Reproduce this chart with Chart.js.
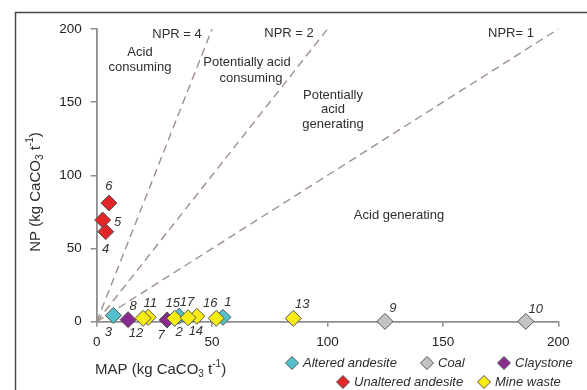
<!DOCTYPE html>
<html><head><meta charset="utf-8">
<script src="https://cdn.jsdelivr.net/npm/chart.js@4.4.1/dist/chart.umd.min.js"></script>
<style>html,body{margin:0;padding:0;background:#fff;overflow:hidden}#wrap{width:587px;height:390px;position:relative}canvas{display:block}</style>
</head><body><div id="wrap"><canvas id="c" width="587" height="390"></canvas></div>
<script>
// ---- data ----
const alteredIds = ['1', '2', '3'];
const alteredMAP = [54.7, 35.7, 7.2];
const alteredNP = [3.0, 3.7, 4.3];

const coalIds = ['9', '10'];
const coalMAP = [124.9, 185.9];
const coalNP = [0.2, 0.2];

const claystoneIds = ['7', '8'];
const claystoneMAP = [30.5, 13.6];
const claystoneNP = [1.2, 1.4];

const unalteredIds = ['4', '5', '6'];
const unalteredMAP = [3.9, 2.6, 5.3];
const unalteredNP = [61.5, 69.5, 81.1];

const mineIds = ['11', '12', '13', '14', '15', '16', '17'];
const mineMAP = [22.3, 20.1, 85.2, 43.4, 33.8, 51.8, 39.6];
const mineNP = [3.0, 2.3, 2.3, 3.7, 2.3, 2.3, 2.7];

const nprRatios = [4, 2, 1];
const xTicks = [0, 50, 100, 150, 200];
const yTicks = [0, 50, 100, 150, 200];

// ---- label placement (pixel offsets from each point) ----
const labelOffsets = {
  '1': [5, -15], '2': [0, 16], '3': [-5, 17], '4': [0, 18], '5': [15, 2], '6': [0, -17],
  '7': [-6, 15], '8': [5, -13], '9': [8, -13], '10': [10, -12], '11': [2, -14],
  '12': [-7, 15], '13': [9, -14], '14': [-1, 15], '15': [-2, -15], '16': [-6, -15], '17': [-1, -15]
};

function pts(xs, ys) { return xs.map((x, i) => ({ x: x, y: ys[i] })); }

const groups = [
  { label: 'Altered andesite', ids: alteredIds, xs: alteredMAP, ys: alteredNP, color: '#52c1cb', order: 5 },
  { label: 'Coal', ids: coalIds, xs: coalMAP, ys: coalNP, color: '#c3c3c3', order: 4 },
  { label: 'Claystone', ids: claystoneIds, xs: claystoneMAP, ys: claystoneNP, color: '#8b2a8e', order: 3 },
  { label: 'Unaltered andesite', ids: unalteredIds, xs: unalteredMAP, ys: unalteredNP, color: '#e2262a', order: 2 },
  { label: 'Mine waste', ids: mineIds, xs: mineMAP, ys: mineNP, color: '#f8ec12', order: 1 }
];

const datasets = [];
nprRatios.forEach(r => {
  datasets.push({
    type: 'line', label: 'NPR=' + r, isGuide: true,
    data: [{ x: 0, y: 0 }, { x: Math.min(200, 200 / r), y: Math.min(200, 200 / r) * r }],
    borderColor: '#a0908a', borderWidth: 1.4, borderDash: [8, 5], pointRadius: 0,
    showLine: true, fill: false, order: 10, clip: false
  });
});
groups.forEach(g => {
  datasets.push({
    type: 'scatter', label: g.label, ids: g.ids, data: pts(g.xs, g.ys),
    backgroundColor: g.color, borderColor: '#555555', borderWidth: 1,
    pointStyle: 'rectRot', pointRadius: 8, pointHoverRadius: 8, order: g.order, clip: false
  });
});

const FONT = '"Liberation Sans", Arial, sans-serif';

function richWidth(ctx, segs, base) {
  let w = 0;
  segs.forEach(s => {
    ctx.font = (s.sub || s.sup ? Math.round(base * 0.68) : base) + 'px ' + FONT;
    w += ctx.measureText(s.t).width;
  });
  return w;
}
function drawRich(ctx, segs, x, y, base) {
  let cx = x;
  segs.forEach(s => {
    const sz = s.sub || s.sup ? Math.round(base * 0.68) : base;
    ctx.font = sz + 'px ' + FONT;
    let dy = 0;
    if (s.sub) dy = base * 0.3;
    if (s.sup) dy = -base * 0.4;
    ctx.fillText(s.t, cx, y + dy);
    cx += ctx.measureText(s.t).width;
  });
}

const decorPlugin = {
  id: 'decor',
  beforeDraw(chart) {
    const ctx = chart.ctx;
    ctx.save();
    ctx.fillStyle = '#fff';
    ctx.fillRect(0, 0, chart.width, chart.height);
    // frame
    ctx.strokeStyle = '#4a4a4a';
    ctx.lineWidth = 1.5;
    ctx.beginPath();
    ctx.moveTo(15.5, 390); ctx.lineTo(15.5, 12.5); ctx.lineTo(587, 12.5);
    ctx.stroke();
    ctx.restore();
  },
  afterDatasetsDraw(chart) {
    const ctx = chart.ctx;
    ctx.save();
    // region annotations
    ctx.fillStyle = '#2e2e2e';
    ctx.textAlign = 'center';
    ctx.textBaseline = 'middle';
    ctx.font = '13px ' + FONT;
    const notes = [
      ['NPR = 4', 177, 34], ['NPR = 2', 289, 33], ['NPR= 1', 511, 33],
      ['Acid', 140, 52], ['consuming', 140, 67],
      ['Potentially acid', 247, 62], ['consuming', 251, 78],
      ['Potentially', 333, 95], ['acid', 333, 109], ['generating', 333, 124],
      ['Acid generating', 399, 215]
    ];
    notes.forEach(n => ctx.fillText(n[0], n[1], n[2]));

    // point id labels
    ctx.font = 'italic 13px ' + FONT;
    ctx.fillStyle = '#333';
    chart.data.datasets.forEach((ds, di) => {
      if (!ds.ids) return;
      const meta = chart.getDatasetMeta(di);
      meta.data.forEach((el, i) => {
        const id = ds.ids[i];
        const off = labelOffsets[id] || [0, -14];
        ctx.fillText(id, el.x + off[0], el.y + off[1]);
      });
    });
    ctx.restore();
  },
  afterDraw(chart) {
    const ctx = chart.ctx;
    ctx.save();
    ctx.fillStyle = '#2e2e2e';
    ctx.textBaseline = 'middle';
    ctx.textAlign = 'left';
    // x title
    const xSegs = [{ t: 'MAP (kg CaCO' }, { t: '3', sub: true }, { t: ' t' }, { t: '-1', sup: true }, { t: ')' }];
    drawRich(ctx, xSegs, 95, 370, 15);
    // y title
    const ySegs = [{ t: 'NP (kg CaCO' }, { t: '3', sub: true }, { t: ' t' }, { t: '-1', sup: true }, { t: ')' }];
    ctx.translate(36, 192);
    ctx.rotate(-Math.PI / 2);
    const w = richWidth(ctx, ySegs, 15);
    drawRich(ctx, ySegs, -w / 2, 0, 15);
    ctx.setTransform(1, 0, 0, 1, 0, 0);

    // legend
    const legendPos = [[292, 363], [427, 363], [504, 363], [343, 382], [484, 382]];
    const scatterSets = chart.data.datasets.filter(d => d.ids);
    ctx.font = 'italic 13px ' + FONT;
    scatterSets.forEach((ds, i) => {
      const p = legendPos[i];
      const r = 6.5;
      ctx.beginPath();
      ctx.moveTo(p[0] - r, p[1]); ctx.lineTo(p[0], p[1] - r);
      ctx.lineTo(p[0] + r, p[1]); ctx.lineTo(p[0], p[1] + r); ctx.closePath();
      ctx.fillStyle = ds.backgroundColor; ctx.fill();
      ctx.strokeStyle = '#555'; ctx.lineWidth = 1; ctx.stroke();
      ctx.fillStyle = '#2e2e2e';
      ctx.fillText(ds.label, p[0] + 11, p[1] + 0.5);
    });
    ctx.restore();
  }
};

new Chart(document.getElementById('c'), {
  type: 'scatter',
  data: { datasets: datasets },
  options: {
    responsive: false, animation: false, devicePixelRatio: 1,
    layout: { padding: { left: 0, right: 28.7, top: 29, bottom: 0 } },
    plugins: { legend: { display: false }, tooltip: { enabled: false } },
    scales: {
      x: {
        type: 'linear', min: 0, max: 200,
        afterBuildTicks: s => { s.ticks = xTicks.map(v => ({ value: v })); },
        afterFit: s => { s.height = 68.3; },
        border: { display: true, color: '#8e8e8e', width: 1.8 },
        grid: { display: true, drawOnChartArea: false, drawTicks: true, tickLength: 5, color: '#8e8e8e', lineWidth: 1.5 },
        ticks: { color: '#222', font: { family: FONT, size: 13.5 }, padding: 7, maxRotation: 0 }
      },
      y: {
        type: 'linear', min: 0, max: 200,
        afterBuildTicks: s => { s.ticks = yTicks.map(v => ({ value: v })); },
        afterFit: s => { s.width = 96.7; },
        border: { display: true, color: '#8e8e8e', width: 1.8 },
        grid: { display: true, drawOnChartArea: false, drawTicks: true, tickLength: 6, color: '#8e8e8e', lineWidth: 1.5 },
        ticks: { color: '#222', font: { family: FONT, size: 13.5 }, padding: 9 }
      }
    }
  },
  plugins: [decorPlugin]
});
</script></body></html>
